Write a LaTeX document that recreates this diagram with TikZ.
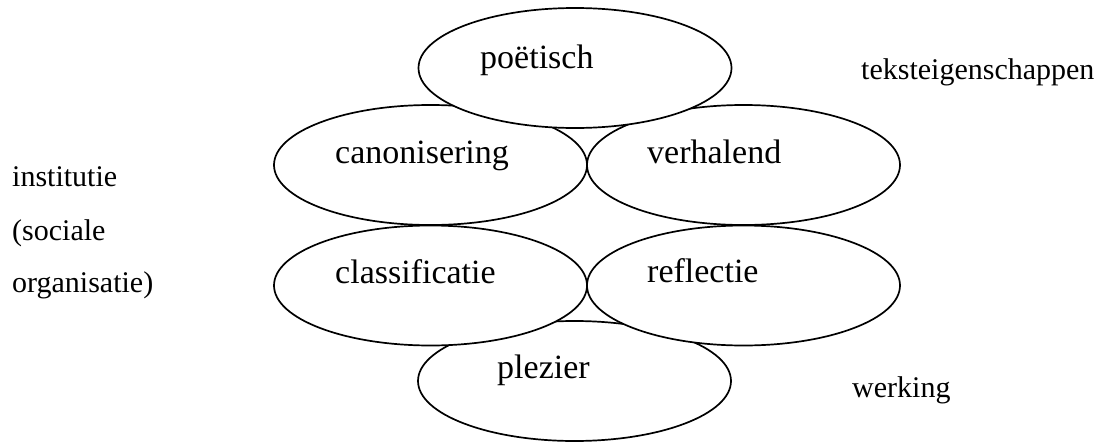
\documentclass[tikz,border=0pt]{standalone}
\usepackage{fontspec}
\setmainfont{Liberation Serif}
\usetikzlibrary{shapes.geometric}
\tikzset{
  oval/.style={ellipse, draw=black, fill=white, line width=1.7pt, minimum width=313pt, minimum height=120pt, inner sep=0pt},
  intext/.style={anchor=base west, inner sep=0pt, font=\fontsize{34}{40}\selectfont},
  sidetext/.style={anchor=base west, inner sep=0pt, font=\fontsize{30}{36}\selectfont}
}
\begin{document}
\begin{tikzpicture}[x=1pt,y=-1pt]
\useasboundingbox (0,0) rectangle (1101,442);
% upper group
\node[oval] (can) at (430.5,165) {};
\node[oval] (ver) at (743.5,165) {};
\node[oval] (poe) at (575,68) {};
% lower group
\node[oval] (ple) at (574.5,381) {};
\node[oval] (cla) at (430.5,285.5) {};
\node[oval] (ref) at (743.5,285.5) {};
% ellipse texts
\node[intext] (tpoe) at (480,68) {poëtisch};
\node[intext] (tcan) at (335,163) {canonisering};
\node[intext] (tver) at (647,163) {verhalend};
\node[intext] (tcla) at (335,283) {classificatie};
\node[intext] (tref) at (647,282) {reflectie};
\node[intext] (tple) at (497,378) {plezier};
% side labels
\node[sidetext] (inst1) at (12,186) {institutie};
\node[sidetext] (inst2) at (12,240) {(sociale};
\node[sidetext] (inst3) at (12,292) {organisatie)};
\node[sidetext] (teks) at (861,79) {teksteigenschappen};
\node[sidetext] (werk) at (852,397) {werking};
\end{tikzpicture}
\end{document}
